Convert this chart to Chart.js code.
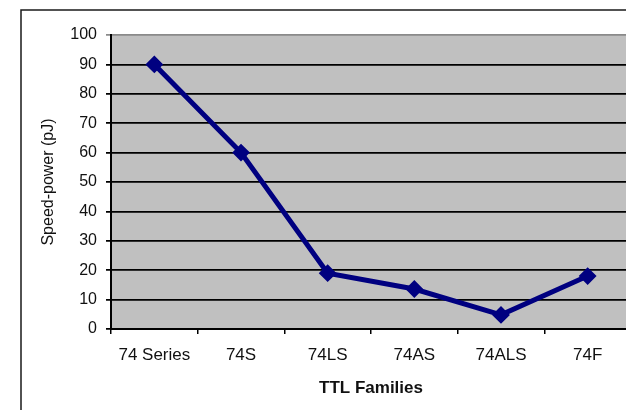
<!DOCTYPE html>
<html>
<head>
<meta charset="utf-8">
<title>Speed-power product of TTL families</title>
<script src="https://cdn.jsdelivr.net/npm/chart.js@4/dist/chart.umd.min.js"></script>
<style>
  html, body { margin: 0; padding: 0; background: #fff; overflow: hidden; width: 626px; height: 410px; }
  #wrap { position: absolute; left: 0; top: 0; }
</style>
</head>
<body>
<div id="wrap"><canvas id="c" width="680" height="440"></canvas></div>
<script>
// TTL logic families and their speed-power product (pJ)
const families = ['74 Series', '74S', '74LS', '74AS', '74ALS', '74F'];
const speedPower = [90, 60, 19, 13.6, 4.8, 18];

const axisMin = 0;
const axisMax = 100;
const axisStep = 10;

const FONT = 'Liberation Sans, Arial, sans-serif';

// grey plot background + frame around the drawing
const frame = {
  id: 'frame',
  beforeDraw(chart) {
    const { ctx, chartArea: a } = chart;
    ctx.save();
    ctx.fillStyle = '#c0c0c0';
    ctx.fillRect(a.left, a.top, a.right - a.left, a.bottom - a.top);
    ctx.strokeStyle = '#1a1a1a';
    ctx.lineWidth = 1.5;
    ctx.beginPath();
    ctx.moveTo(21, chart.height);
    ctx.lineTo(21, 10);
    ctx.lineTo(chart.width, 10);
    ctx.stroke();
    ctx.restore();
  }
};

new Chart(document.getElementById('c'), {
  type: 'line',
  data: {
    labels: families,
    datasets: [{
      data: speedPower,
      borderColor: '#000080',
      backgroundColor: '#000080',
      borderWidth: 5,
      pointStyle: 'rectRot',
      pointRadius: 7.5,
      pointBorderWidth: 2,
      pointBorderColor: '#000080',
      pointBackgroundColor: '#000080',
      tension: 0,
      fill: false
    }]
  },
  options: {
    responsive: false,
    devicePixelRatio: 1,
    animation: false,
    layout: { padding: { left: 21, top: 35, right: 49, bottom: 31 } },
    plugins: { legend: { display: false }, tooltip: { enabled: false } },
    scales: {
      x: {
        type: 'category',
        offset: true,
        afterFit(s) { s.height = 80; },
        grid: {
          offset: true,
          drawOnChartArea: false,
          drawTicks: true,
          tickLength: 5,
          color: '#000',
          lineWidth: 1.5
        },
        border: { color: '#000', width: 2 },
        ticks: {
          color: '#111',
          padding: 11,
          font: { family: FONT, size: 17 },
          maxRotation: 0,
          autoSkip: false
        },
        title: {
          display: true,
          text: 'TTL Families',
          color: '#111',
          font: { family: FONT, size: 17, weight: 'bold' },
          padding: { top: 0, bottom: 10 }
        }
      },
      y: {
        min: axisMin,
        max: axisMax,
        afterFit(s) { s.width = 90; },
        grid: {
          drawTicks: true,
          tickLength: 5,
          color: (c) => (c.tick && c.tick.value === axisMax ? '#8a8a8a' : '#000'),
          lineWidth: 1.75
        },
        border: { color: '#000', width: 2 },
        ticks: {
          stepSize: axisStep,
          color: '#111',
          padding: 9,
          font: { family: FONT, size: 16 }
        },
        title: {
          display: true,
          text: 'Speed-power (pJ)',
          color: '#111',
          font: { family: FONT, size: 16 },
          padding: { top: 18, bottom: 0 }
        }
      }
    }
  },
  plugins: [frame]
});
</script>
</body>
</html>
